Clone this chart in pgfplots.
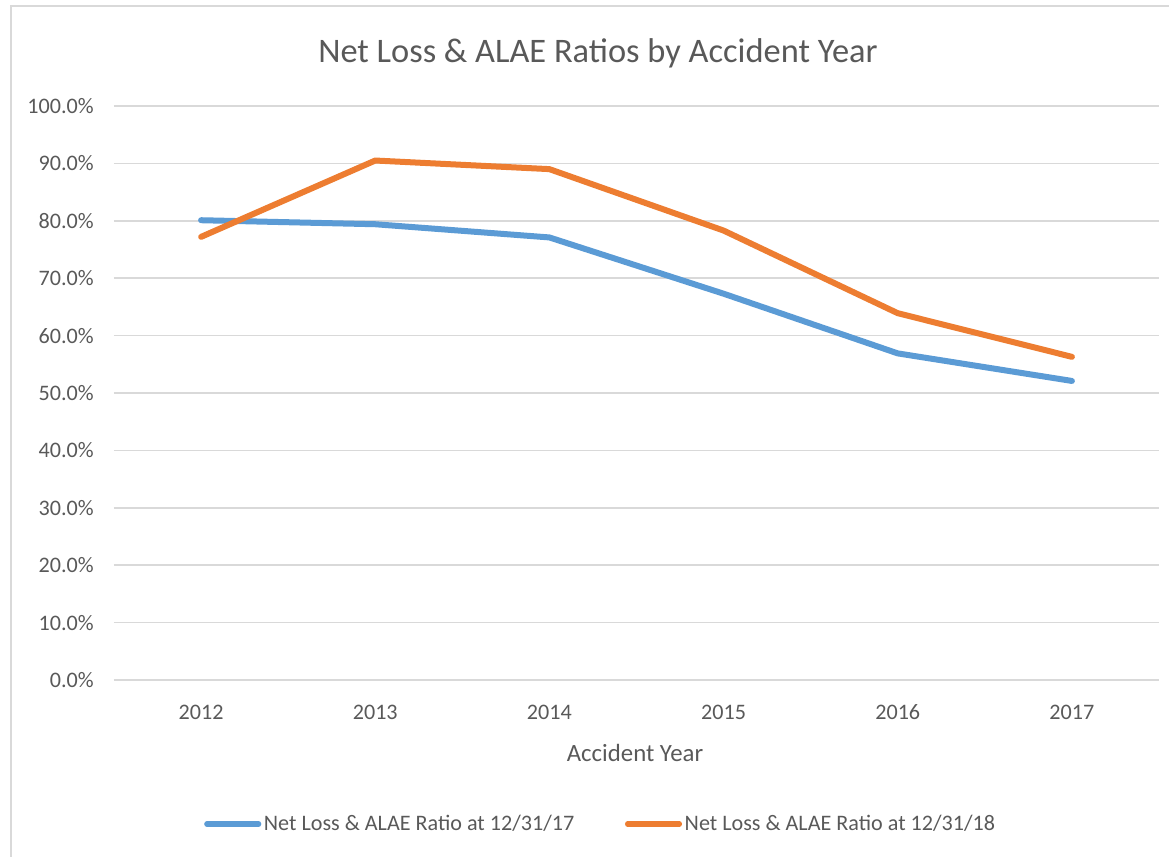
\documentclass[border=0pt]{standalone}
\usepackage{pgfplots}
\pgfplotsset{compat=1.18}
\usepackage{pgfplotstable}
\usepackage{fontspec}
\setmainfont{Carlito}

\definecolor{gridgray}{HTML}{D9D9D9}
\definecolor{textgray}{HTML}{595959}
\definecolor{seriesblue}{HTML}{5B9BD5}
\definecolor{seriesorange}{HTML}{ED7D31}

% Net loss & ALAE ratios (%) by accident year, at two evaluation dates
\pgfplotstableread{
idx year r17  r18
0   2012 80.1 77.2
1   2013 79.4 90.5
2   2014 77.1 89.0
3   2015 67.3 78.3
4   2016 56.9 63.9
5   2017 52.1 56.3
}\ratios

\begin{document}
\begin{tikzpicture}[x=0.75pt,y=0.75pt]
\useasboundingbox (0,0) rectangle (1169,856);
% chart frame
\draw[gridgray, line width=1.2pt] (11,-10) -- (11,850) -- (1190,850);
% chart title and axis title
\node[anchor=base, text=textgray, font=\fontsize{25.8}{30}\selectfont, inner sep=0pt]
  at (598,793) {Net Loss \& ALAE Ratios by Accident Year};
\node[anchor=base, text=textgray, font=\fontsize{18.6}{22}\selectfont, inner sep=0pt]
  at (635,95) {Accident Year};
\begin{axis}[
  at={(85.5pt,132pt)}, anchor=south west,
  scale only axis, width=783.75pt, height=430.5pt,
  xmin=-0.5, xmax=5.5, ymin=0, ymax=100,
  xtick={0,1,2,3,4,5},
  xticklabels={2012,2013,2014,2015,2016,2017},
  ytick={0,10,...,100},
  /pgf/number format/assume math mode=true,
  yticklabel={\pgfmathprintnumber[fixed,fixed zerofill,precision=1]{\tick}\%},
  axis line style={draw=none},
  major tick length=0pt,
  ymajorgrids,
  grid style={gridgray, line width=1.1pt},
  tick label style={text=textgray, font=\fontsize{16.6}{20}\selectfont},
  yticklabel style={anchor=east, inner sep=0pt, xshift=-15pt},
  xticklabel style={anchor=north, inner sep=0pt, text height=10.6pt, text depth=0pt, yshift=-19pt},
  legend columns=2,
  legend style={at={(0.466,-0.2509)}, anchor=center, draw=none, fill=none,
    inner sep=0pt, font=\fontsize{16.6}{20}\selectfont, text=textgray,
    /tikz/every even column/.append style={column sep=36pt}},
  legend image code/.code={\draw[#1, line width=3.8pt, line cap=round] (0pt,0pt) -- (39pt,0pt);},
  legend cell align=left,
  clip=false,
]
\addplot[seriesblue, line width=4.5pt, line join=round, line cap=round]
  table[x=idx, y=r17] {\ratios};
\addlegendentry{Net Loss \& ALAE Ratio at 12/31/17}
\addplot[seriesorange, line width=4.5pt, line join=round, line cap=round]
  table[x=idx, y=r18] {\ratios};
\addlegendentry{Net Loss \& ALAE Ratio at 12/31/18}
\end{axis}
\end{tikzpicture}
\end{document}
